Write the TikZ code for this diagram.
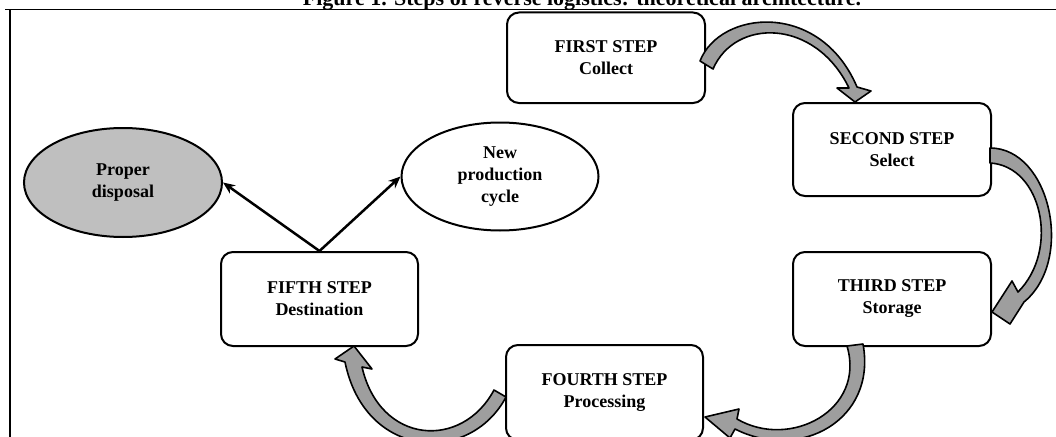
\documentclass[tikz,border=0pt]{standalone}
\usepackage{fontspec}
\setmainfont{Liberation Serif}
\usetikzlibrary{shapes.geometric,arrows.meta}
\definecolor{arrowgray}{gray}{0.62}
\definecolor{ovalgray}{gray}{0.75}
\begin{document}
\begin{tikzpicture}[x=1pt,y=-1pt,
  stepbox/.style={draw,line width=2pt,rounded corners=12pt,fill=white,minimum width=198pt,minimum height=91pt,align=center,font=\fontsize{18}{22}\selectfont\bfseries,inner sep=0pt},
  oval/.style={draw,ellipse,line width=2pt,align=center,font=\fontsize{18}{22}\selectfont\bfseries,inner sep=0pt,minimum width=197pt,minimum height=108pt},
  bendarrow/.style={draw=black,fill=arrowgray,line width=1.6pt,line join=round},
  link/.style={line width=2.5pt,-{Stealth[length=12pt,width=10pt]}}]
\useasboundingbox (0,0) rectangle (1056,436);
% title and frame
\node[font=\fontsize{22}{26}\selectfont\bfseries, anchor=base] (title) at (582,6) {Figure 1. Steps of reverse logistics: theoretical architecture.};
\draw[line width=1.5pt] (5,9.5) -- (1056,9.5);
\draw[line width=2pt] (10,9.5) -- (10,437);
% boxes
\node[stepbox, minimum height=90.5pt] (s1) at (606,57.75) {FIRST STEP\\Collect};
\node[stepbox, minimum height=93pt] (s2) at (892,149.5) {SECOND STEP\\Select};
\node[stepbox, minimum height=94pt] (s3) at (892,299) {THIRD STEP\\Storage};
\node[stepbox, minimum width=197pt, minimum height=95pt] (s4) at (604.5,392.5) {FOURTH STEP\\Processing};
\node[stepbox, minimum width=197pt, minimum height=94pt] (s5) at (319.5,299) {FIFTH STEP\\Destination};
% ovals
\node[oval, fill=ovalgray, minimum width=198pt, minimum height=109pt] (pd) at (123,182.5) {Proper\\disposal};
\node[oval, fill=white] (np) at (500,176.5) {New\\production\\cycle};
% straight arrows
\draw[link] (s5.north) -- (pd.east);
\draw[link] (s5.north) -- (np.west);
% curved block arrows
\draw[bendarrow] (700,61) .. controls (720,10) and (820,0) .. (857,87)
  -- (871,91) -- (855,102) -- (837,88) -- (849,88)
  .. controls (815,18) and (735,18) .. (713,69) -- cycle;
\draw[bendarrow] (990,148) .. controls (1050,148) and (1075,260) .. (1024,302)
  -- (1010,324) -- (992,312) -- (1012,281) -- (1018,292)
  .. controls (1060,250) and (1042,166) .. (990,163) -- cycle;
\draw[bendarrow] (847,346) -- (863,344) .. controls (877,420) and (800,462) .. (735,429)
  -- (730,438) -- (705,417) -- (739,409) -- (737,419)
  .. controls (790,450) and (866,410) .. (847,346) -- cycle;
\draw[bendarrow] (494,390) -- (506,397) .. controls (470,465) and (365,460) .. (345,362)
  -- (335,359) -- (354,346) -- (372,369) -- (362,367)
  .. controls (380,445) and (462,450) .. (494,390) -- cycle;
\end{tikzpicture}
\end{document}
